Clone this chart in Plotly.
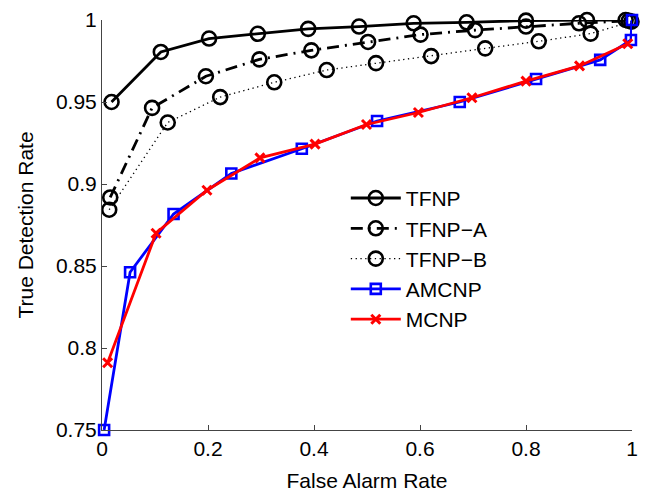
import plotly.graph_objects as go

# ---- data ----
tfnp_x = [0.018, 0.111, 0.202, 0.294, 0.389, 0.485, 0.588, 0.688, 0.800, 0.915, 0.988]
tfnp_y = [0.950, 0.9805, 0.9887, 0.9916, 0.9946, 0.996, 0.998, 0.9986, 0.9996, 1.0, 1.0]

tfnpa_x = [0.0155, 0.0945, 0.196, 0.297, 0.395, 0.502, 0.601, 0.704, 0.800, 0.900, 0.994]
tfnpa_y = [0.8918, 0.9464, 0.9657, 0.976, 0.9815, 0.9866, 0.9911, 0.9938, 0.996, 0.998, 0.9995]

tfnpb_x = [0.0136, 0.124, 0.223, 0.325, 0.424, 0.517, 0.621, 0.723, 0.824, 0.922, 0.999]
tfnpb_y = [0.8843, 0.9375, 0.953, 0.962, 0.9695, 0.9737, 0.978, 0.9827, 0.987, 0.9917, 0.999]

amcnp_x = [0.004, 0.053, 0.135, 0.244, 0.377, 0.519, 0.675, 0.819, 0.940, 0.998, 1.0]
amcnp_y = [0.750, 0.8462, 0.8817, 0.9064, 0.9215, 0.9384, 0.950, 0.964, 0.9757, 0.9878, 1.0]

mcnp_x = [0.0106, 0.102, 0.198, 0.298, 0.402, 0.499, 0.597, 0.698, 0.800, 0.901, 0.992]
mcnp_y = [0.791, 0.870, 0.8962, 0.9159, 0.9243, 0.9363, 0.9436, 0.9526, 0.9627, 0.972, 0.9855]

x_ticks = [0, 0.2, 0.4, 0.6, 0.8, 1]
x_tick_text = ["0", "0.2", "0.4", "0.6", "0.8", "1"]
y_ticks = [0.75, 0.8, 0.85, 0.9, 0.95, 1]
y_tick_text = ["0.75", "0.8", "0.85", "0.9", "0.95", "1"]

FONT = "Liberation Sans, Arial, Helvetica, sans-serif"
FS = 21

fig = go.Figure()

circle = dict(symbol="circle-open", size=14, color="black", line=dict(width=2.6, color="black"))

fig.add_trace(go.Scatter(x=tfnp_x, y=tfnp_y, name="TFNP", mode="lines+markers",
                         line=dict(color="black", width=2.8), marker=circle, cliponaxis=False))
fig.add_trace(go.Scatter(x=tfnpa_x, y=tfnpa_y, name="TFNP\u2212A", mode="lines+markers",
                         line=dict(color="black", width=2.8, dash="12px,6px,2px,6px"),
                         marker=circle, cliponaxis=False))
fig.add_trace(go.Scatter(x=tfnpb_x, y=tfnpb_y, name="TFNP\u2212B", mode="lines+markers",
                         line=dict(color="black", width=1.3, dash="1.3px,3.5px"),
                         marker=circle, cliponaxis=False))
fig.add_trace(go.Scatter(x=amcnp_x, y=amcnp_y, name="AMCNP", mode="lines+markers",
                         line=dict(color="#0000ff", width=2.8),
                         marker=dict(symbol="square-open", size=10, color="#0000ff",
                                     line=dict(width=2.6, color="#0000ff")),
                         cliponaxis=False))
fig.add_trace(go.Scatter(x=mcnp_x, y=mcnp_y, name="MCNP", mode="lines+markers",
                         line=dict(color="#ff0000", width=2.8),
                         marker=dict(symbol="x-thin-open", size=9, color="#ff0000",
                                     line=dict(width=3, color="#ff0000")),
                         cliponaxis=False))

fig.update_layout(
    width=646, height=497,
    margin=dict(l=102, r=8, t=17, b=64),
    paper_bgcolor="white", plot_bgcolor="white",
    font=dict(family=FONT, size=FS, color="black"),
    showlegend=True,
    legend=dict(x=0.46, y=0.615, xanchor="left", yanchor="top",
                bgcolor="rgba(0,0,0,0)", borderwidth=0,
                font=dict(family=FONT, size=FS, color="black"),
                tracegroupgap=0, itemwidth=50),
)
fig.update_xaxes(range=[0, 1], tickvals=x_ticks, ticktext=x_tick_text,
                 showgrid=False, zeroline=False, showline=True, linecolor="#444",
                 linewidth=1, ticks="inside", ticklen=5, tickcolor="#444",
                 title=dict(text="False Alarm Rate", font=dict(size=FS), standoff=14),
                 tickfont=dict(size=FS))
fig.update_yaxes(range=[0.75, 1], tickvals=y_ticks, ticktext=y_tick_text,
                 showgrid=False, zeroline=False, showline=True, linecolor="#444",
                 linewidth=1, ticks="inside", ticklen=5, tickcolor="#444",
                 title=dict(text="True Detection Rate", font=dict(size=FS), standoff=16),
                 tickfont=dict(size=FS))

fig.write_html("out.html",
               config={"displayModeBar": False, "staticPlot": True},
               post_script="document.body.style.margin='0';document.body.style.overflow='hidden';")
